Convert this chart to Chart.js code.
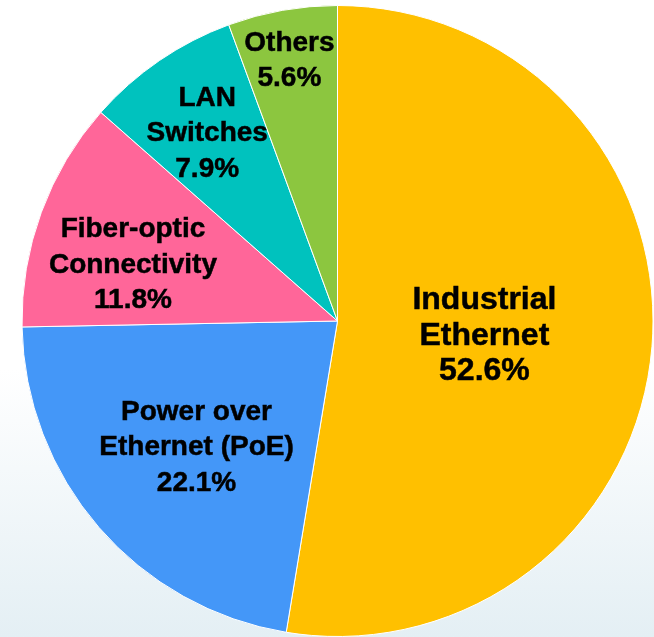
<!DOCTYPE html>
<html>
<head>
<meta charset="utf-8">
<script src="https://cdn.jsdelivr.net/npm/chart.js@4.4.1/dist/chart.umd.min.js"></script>
<style>
    html, body {
        margin: 0;
        padding: 0;
    }
    body {
        width: 654px;
        height: 637px;
        overflow: hidden;
        background: linear-gradient(to bottom, #ffffff 0%, #ffffff 58%, #e4eff4 100%);
    }
    #caja {
        width: 654px;
        height: 637px;
        position: relative;
    }
</style>
</head>
<body>
<div id="caja"><canvas id="graficoTorta"></canvas></div>
<script>
// Datos del gráfico (porcentajes por segmento)
const categorias = [
    ['Industrial', 'Ethernet'],
    ['Power over', 'Ethernet (PoE)'],
    ['Fiber-optic', 'Connectivity'],
    ['LAN', 'Switches'],
    ['Others']
];
const valores = [52.6, 22.1, 11.8, 7.9, 5.6];
const colores = ['#FFC000', '#4497F8', '#FF6699', '#00C2BE', '#8CC63F'];

// Plugin para dibujar las etiquetas dentro de cada segmento
const etiquetasPlugin = {
    id: 'etiquetas',
    afterDatasetsDraw(chart, args, opts) {
        const ctx = chart.ctx;
        const meta = chart.getDatasetMeta(0);
        meta.data.forEach((arco, i) => {
            const p = arco.getProps(['x', 'y', 'startAngle', 'endAngle', 'outerRadius'], true);
            const ajuste = opts.ajustes[i];
            const medio = (p.startAngle + p.endAngle) / 2 + ajuste.giro * Math.PI / 180;
            const r = p.outerRadius * ajuste.radio;
            const x = p.x + Math.cos(medio) * r;
            const y = p.y + Math.sin(medio) * r;
            const lineas = categorias[i].concat([valores[i].toFixed(1) + '%']);
            const alto = 35.5;
            ctx.save();
            ctx.fillStyle = '#000';
            ctx.strokeStyle = '#000';
            ctx.lineWidth = 0.5;
            ctx.textAlign = 'center';
            ctx.textBaseline = 'middle';
            ctx.font = 'bold ' + ajuste.tam + 'px "Liberation Sans", Arial, sans-serif';
            lineas.forEach((linea, j) => {
                const dy = (j - (lineas.length - 1) / 2) * alto;
                ctx.fillText(linea, x, y + dy);
                ctx.strokeText(linea, x, y + dy);
            });
            ctx.restore();
        });
    }
};

function mostrarGraficoTorta() {
    const ctx = document.getElementById('graficoTorta').getContext('2d');
    new Chart(ctx, {
        type: 'pie',
        data: {
            labels: categorias.map(c => c.join(' ')),
            datasets: [{
                data: valores,
                backgroundColor: colores,
                borderColor: '#ffffff',
                borderWidth: 1
            }]
        },
        options: {
            responsive: true,
            maintainAspectRatio: false,
            animation: false,
            layout: {
                padding: { left: 21, right: 0, top: 5, bottom: 0 }
            },
            plugins: {
                legend: { display: false },
                tooltip: { enabled: false },
                etiquetas: {
                    ajustes: [
                        { radio: 0.468, giro: 1.1, tam: 32 },
                        { radio: 0.60, giro: -1.0, tam: 28 },
                        { radio: 0.672, giro: -4.9, tam: 28 },
                        { radio: 0.724, giro: -0.4, tam: 28 },
                        { radio: 0.838, giro: -0.4, tam: 28 }
                    ]
                }
            }
        },
        plugins: [etiquetasPlugin]
    });
}

document.addEventListener('DOMContentLoaded', () => {
    mostrarGraficoTorta();
});
</script>
</body>
</html>
